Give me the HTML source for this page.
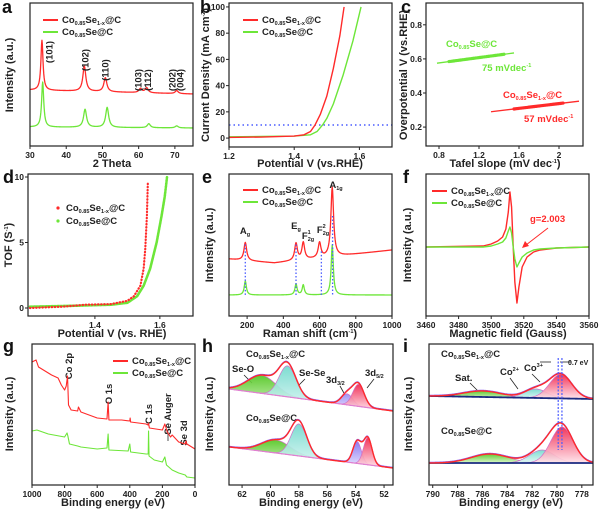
<!DOCTYPE html>
<html><head><meta charset="utf-8">
<style>
html,body{margin:0;padding:0;background:#fff;}
svg{display:block;font-family:"Liberation Sans",Arial,sans-serif;font-weight:bold;}
.tl{font-size:8.5px;fill:#222;}
.at{font-size:11px;fill:#222;}
.lt{font-size:18px;fill:#111;}
.lg{font-size:9.5px;fill:#222;}
.sb{font-size:5.5px;}
</style></head>
<body>
<svg id="fig" width="600" height="509" viewBox="0 0 600 509" xmlns="http://www.w3.org/2000/svg">
<defs>
<linearGradient id="gGreen" x1="0" y1="0" x2="0" y2="1"><stop offset="0" stop-color="#4fc51d"/><stop offset="1" stop-color="#d9f7c8"/></linearGradient>
<linearGradient id="gCyan" x1="0" y1="0" x2="0" y2="1"><stop offset="0" stop-color="#6fd8cc"/><stop offset="1" stop-color="#e2f8f5"/></linearGradient>
<linearGradient id="gPurple" x1="0" y1="0" x2="0" y2="1"><stop offset="0" stop-color="#7f6cf0"/><stop offset="1" stop-color="#ebe6ff"/></linearGradient>
<linearGradient id="gRed" x1="0" y1="0" x2="0" y2="1"><stop offset="0" stop-color="#f0204a"/><stop offset="1" stop-color="#ffe3ea"/></linearGradient>
</defs>
<text class="lt" x="2" y="13">a</text>
<text class="lt" x="200" y="13">b</text>
<text class="lt" x="401" y="13">c</text>
<text class="lt" x="3" y="183">d</text>
<text class="lt" x="202" y="183">e</text>
<text class="lt" x="403" y="183">f</text>
<text class="lt" x="3" y="352">g</text>
<text class="lt" x="202" y="352">h</text>
<text class="lt" x="403" y="352">i</text>
<text class="at" text-anchor="middle" transform="translate(13,75) rotate(-90)">Intensity (a.u.)</text>
<text class="at" text-anchor="middle" x="112" y="167">2 Theta</text>
<text class="at" text-anchor="middle" transform="translate(209,75) rotate(-90)">Current Density (mA cm<tspan class="sb" dy="-4">-2</tspan><tspan dy="4">)</tspan></text>
<text class="at" text-anchor="middle" x="310" y="167">Potential V (vs.RHE)</text>
<text class="at" text-anchor="middle" transform="translate(407,75) rotate(-90)">Overpotential V (vs.RHE)</text>
<text class="at" text-anchor="middle" x="505" y="167">Tafel slope (mV dec<tspan class="sb" dy="-4">-1</tspan><tspan dy="4">)</tspan></text>
<text class="at" text-anchor="middle" transform="translate(12,245) rotate(-90)">TOF (S<tspan class="sb" dy="-4">-1</tspan><tspan dy="4">)</tspan></text>
<text class="at" text-anchor="middle" x="112" y="337">Potential V (vs. RHE)</text>
<text class="at" text-anchor="middle" transform="translate(213,245) rotate(-90)">Intensity (a.u.)</text>
<text class="at" text-anchor="middle" x="310" y="337">Raman shift (cm<tspan class="sb" dy="-4">-1</tspan><tspan dy="4">)</tspan></text>
<text class="at" text-anchor="middle" transform="translate(411,245) rotate(-90)">Intensity (a.u.)</text>
<text class="at" text-anchor="middle" x="508" y="337">Magnetic field (Gauss)</text>
<text class="at" text-anchor="middle" transform="translate(13,414) rotate(-90)">Intensity (a.u.)</text>
<text class="at" text-anchor="middle" x="113" y="506">Binding energy (eV)</text>
<text class="at" text-anchor="middle" transform="translate(213,414) rotate(-90)">Intensity (a.u.)</text>
<text class="at" text-anchor="middle" x="311" y="506">Binding energy (eV)</text>
<text class="at" text-anchor="middle" transform="translate(412,414) rotate(-90)">Intensity (a.u.)</text>
<text class="at" text-anchor="middle" x="511" y="506">Binding energy (eV)</text>

<g>
<line x1="43" y1="20" x2="58" y2="20" stroke="#ff2a2a" stroke-width="2"/>
<text class="lg" x="62" y="23">Co<tspan class="sb" dy="2">0.85</tspan><tspan dy="-2">Se</tspan><tspan class="sb" dy="2">1-x</tspan><tspan dy="-2">@C</tspan></text>
<line x1="43" y1="32" x2="58" y2="32" stroke="#6de639" stroke-width="2"/>
<text class="lg" x="62" y="35">Co<tspan class="sb" dy="2">0.85</tspan><tspan dy="-2">Se@C</tspan></text>
</g>
<g>
<line x1="243" y1="20" x2="258" y2="20" stroke="#ff2a2a" stroke-width="2"/>
<text class="lg" x="262" y="23">Co<tspan class="sb" dy="2">0.85</tspan><tspan dy="-2">Se</tspan><tspan class="sb" dy="2">1-x</tspan><tspan dy="-2">@C</tspan></text>
<line x1="243" y1="32" x2="258" y2="32" stroke="#6de639" stroke-width="2"/>
<text class="lg" x="262" y="35">Co<tspan class="sb" dy="2">0.85</tspan><tspan dy="-2">Se@C</tspan></text>
</g>
<text class="lg" x="446" y="47" style="fill:#6de639">Co<tspan class="sb" dy="2">0.85</tspan><tspan dy="-2">Se@C</tspan></text>
<text class="lg" x="482" y="71" style="fill:#6de639">75 mVdec<tspan class="sb" dy="-4">-1</tspan></text>
<text class="lg" x="503" y="98" style="fill:#ff2a2a">Co<tspan class="sb" dy="2">0.85</tspan><tspan dy="-2">Se</tspan><tspan class="sb" dy="2">1-x</tspan><tspan dy="-2">@C</tspan></text>
<text class="lg" x="524" y="122" style="fill:#ff2a2a">57 mVdec<tspan class="sb" dy="-4">-1</tspan></text>
<g>
<circle cx="58" cy="208" r="1.6" fill="#ff2a2a"/>
<text class="lg" x="66" y="211">Co<tspan class="sb" dy="2">0.85</tspan><tspan dy="-2">Se</tspan><tspan class="sb" dy="2">1-x</tspan><tspan dy="-2">@C</tspan></text>
<circle cx="58" cy="221" r="1.6" fill="#6de639"/>
<text class="lg" x="66" y="224">Co<tspan class="sb" dy="2">0.85</tspan><tspan dy="-2">Se@C</tspan></text>
</g>
<g>
<line x1="243" y1="190" x2="258" y2="190" stroke="#ff2a2a" stroke-width="2"/>
<text class="lg" x="262" y="193">Co<tspan class="sb" dy="2">0.85</tspan><tspan dy="-2">Se</tspan><tspan class="sb" dy="2">1-x</tspan><tspan dy="-2">@C</tspan></text>
<line x1="243" y1="202" x2="258" y2="202" stroke="#6de639" stroke-width="2"/>
<text class="lg" x="262" y="205">Co<tspan class="sb" dy="2">0.85</tspan><tspan dy="-2">Se@C</tspan></text>
</g>
<g>
<line x1="432" y1="191" x2="447" y2="191" stroke="#ff2a2a" stroke-width="2"/>
<text class="lg" x="451" y="194">Co<tspan class="sb" dy="2">0.85</tspan><tspan dy="-2">Se</tspan><tspan class="sb" dy="2">1-x</tspan><tspan dy="-2">@C</tspan></text>
<line x1="432" y1="203" x2="447" y2="203" stroke="#6de639" stroke-width="2"/>
<text class="lg" x="451" y="206">Co<tspan class="sb" dy="2">0.85</tspan><tspan dy="-2">Se@C</tspan></text>
</g>
<text class="lg" x="530" y="222" style="fill:#ff2a2a">g=2.003</text>
<line x1="548" y1="228" x2="526" y2="245" stroke="#ff2a2a" stroke-width="1"/>
<polygon points="522,248 525,241 529,246" fill="#ff2a2a"/>
<g>
<line x1="113" y1="361" x2="128" y2="361" stroke="#ff2a2a" stroke-width="2"/>
<text class="lg" x="132" y="364">Co<tspan class="sb" dy="2">0.85</tspan><tspan dy="-2">Se</tspan><tspan class="sb" dy="2">1-x</tspan><tspan dy="-2">@C</tspan></text>
<line x1="113" y1="373" x2="128" y2="373" stroke="#6de639" stroke-width="2"/>
<text class="lg" x="132" y="376">Co<tspan class="sb" dy="2">0.85</tspan><tspan dy="-2">Se@C</tspan></text>
</g>
<text class="lg" transform="translate(72,366) rotate(-90)" text-anchor="middle">Co 2p</text>
<text class="lg" transform="translate(112,394) rotate(-90)" text-anchor="middle">O 1s</text>
<text class="lg" transform="translate(152,414) rotate(-90)" text-anchor="middle">C 1s</text>
<text class="lg" transform="translate(171,414) rotate(-90)" text-anchor="middle">Se Auger</text>
<text class="lg" transform="translate(187,433) rotate(-90)" text-anchor="middle">Se 3d</text>
<line x1="168" y1="432" x2="168" y2="441" stroke="#222" stroke-width="0.8"/>
<text class="lg" x="246" y="357">Co<tspan class="sb" dy="2">0.85</tspan><tspan dy="-2">Se</tspan><tspan class="sb" dy="2">1-x</tspan><tspan dy="-2">@C</tspan></text>
<text class="lg" x="232" y="372">Se-O</text>
<text class="lg" x="299" y="376">Se-Se</text>
<text class="lg" x="326" y="383">3d<tspan class="sb" dy="2">3/2</tspan></text>
<text class="lg" x="365" y="376">3d<tspan class="sb" dy="2">5/2</tspan></text>
<text class="lg" x="246" y="421">Co<tspan class="sb" dy="2">0.85</tspan><tspan dy="-2">Se@C</tspan></text>
<g stroke="#222" stroke-width="0.8">
<line x1="244" y1="375" x2="252" y2="383"/><line x1="305" y1="379" x2="298" y2="386"/>
<line x1="340" y1="386" x2="345" y2="395"/><line x1="374" y1="379" x2="367" y2="388"/>
</g>
<text class="lg" x="441" y="357">Co<tspan class="sb" dy="2">0.85</tspan><tspan dy="-2">Se</tspan><tspan class="sb" dy="2">1-x</tspan><tspan dy="-2">@C</tspan></text>
<text class="lg" x="455" y="381">Sat.</text>
<text class="lg" x="500" y="375">Co<tspan class="sb" dy="-4">2+</tspan></text>
<text class="lg" x="524" y="371">Co<tspan class="sb" dy="-4">3+</tspan></text>
<text class="lg" x="441" y="434">Co<tspan class="sb" dy="2">0.85</tspan><tspan dy="-2">Se@C</tspan></text>
<text x="568" y="365" style="font-size:7px;fill:#222">0.7 eV</text>
<g stroke="#222" stroke-width="0.8">
<line x1="470" y1="383" x2="478" y2="391"/><line x1="510" y1="378" x2="518" y2="389"/>
<line x1="532" y1="374" x2="540" y2="382"/>
<line x1="540" y1="362" x2="551" y2="362"/><line x1="571" y1="362" x2="560" y2="362"/>
</g>
<g id="plots"></g>
</svg>
<script>
const NS = "http://www.w3.org/2000/svg";
const root = document.getElementById('plots');

// ===== data: a (XRD) =====
const aPeakPos = [33.3, 45.0, 50.8, 60.5, 62.2, 70.5];
const aRedHeights = [50, 25, 14, 4, 5, 3];
const aGreenPos = [33.5, 45.2, 51.3, 62.8, 70.5];
const aGreenHeights = [45, 18, 20, 4, 2];
const aRedBase = [56, 52];
const aGreenBase = [19, 18];
const aXTicks = [30, 40, 50, 60, 70];
const aHklLabels = ["(101)", "(102)", "(110)", "(103)", "(112)", "(202)", "(004)"];
const aHklPos = [35.4, 45.3, 50.9, 59.9, 62.6, 69.4, 71.6];
const aHklHeight = [94, 86, 76, 66, 66, 66, 66];
// ===== b (LSV) =====
const bRedV = [1.2, 1.3, 1.4, 1.43, 1.45, 1.464, 1.48, 1.5, 1.52, 1.54, 1.553];
const bRedJ = [0.5, 0.8, 1.5, 2.5, 5, 10, 18, 32, 53, 78, 100];
const bGreenV = [1.2, 1.3, 1.4, 1.45, 1.47, 1.487, 1.5, 1.52, 1.55, 1.58, 1.605];
const bGreenJ = [1, 1.2, 1.5, 2.5, 5, 10, 15, 26, 48, 74, 100];
const bRef = 10;
const bXTicks = [1.2, 1.4, 1.6];
const bYTicks = [0, 20, 40, 60, 80, 100];
// ===== c (Tafel) =====
const cGreenX = [0.78, 1.55];
const cGreenY = [0.575, 0.635];
const cGreenMark = [0.9, 1.45];
const cRedX = [1.32, 2.2];
const cRedY = [0.29, 0.352];
const cRedMark = [1.55, 2.05];
const cXTicks = [0.8, 1.2, 1.6, 2.0];
const cYTicks = [0.2, 0.4, 0.6, 0.8];
// ===== d (TOF) =====
const dRedV = [1.2, 1.3, 1.37, 1.45, 1.5, 1.52, 1.54, 1.55, 1.555, 1.56, 1.563];
const dRedT = [0, 0.1, 0.25, 0.3, 0.55, 0.9, 1.7, 3, 4.5, 7, 9.6];
const dGreenV = [1.2, 1.35, 1.45, 1.5, 1.53, 1.55, 1.57, 1.59, 1.605, 1.615, 1.622];
const dGreenT = [0.1, 0.18, 0.25, 0.4, 0.9, 1.7, 3, 5, 7, 8.5, 10];
const dXTicks = [1.4, 1.6];
const dYTicks = [0, 5, 10];
// ===== e (Raman) =====
const eRedPeaks = [190, 470, 510, 600, 670];
const eRedHeights = [18, 17, 17, 15, 69];
const eGreenPeaks = [190, 470, 510, 670];
const eGreenHeights = [14, 11, 10, 50];
const eRedBaseX = [100, 350, 700, 1000];
const eRedBaseY = [57, 53, 60, 66];
const eGreenBase = 21;
const eModes = [190, 470, 610, 672];
const eXTicks = [200, 400, 600, 800, 1000];
// ===== f (EPR) =====
const fField = [3460,3495,3500,3504,3507,3509,3510.5,3511.5,3512.5,3513.5,3514.5,3515.8,3517,3519,3522,3526,3530,3540,3560];
const fRed = [0,1,3,6,10,18,35,55,40,0,-35,-56,-40,-20,-10,-5,-3,-1,0];
const fGreen = [0,0,1,3,5,9,16,20,14,0,-12,-20,-16,-10,-6,-3,-2,-1,0];
const fXTicks = [3460, 3480, 3500, 3520, 3540, 3560];
// ===== g (XPS survey) =====
const gRedBE = [1000,975,960,930,880,840,820,800,790,782,776,760,720,715,700,600,540,533,528,450,400,398,395,300,288,285,280,200,185,170,150,140,100,60,55,50,10,0];
const gRedI  = [123,125,118,115,110,107,100,95,99,109,80,75,74,78,73,67,66,83,65,65,64,67,63,61,60,62,57,55,61,53,48,50,43,41,44,41,37,36];
const gGreenBE = [1000,970,900,800,785,780,770,720,700,600,540,533,528,410,400,395,300,287,285,282,250,200,185,175,140,100,60,50,0];
const gGreenI  = [54,55,51,48,52,49,41,39,38,36,37,51,35,34,41,33,31,31,54,29,25,23,28,20,15,12,10,8,7];
const gXTicks = [1000, 800, 600, 400, 200, 0];
// ===== h (Se 3d) =====
const hCompNames = ["Se-O", "Se-Se", "3d3/2", "3d5/2"];
const hFills = ["url(#gGreen)", "url(#gCyan)", "url(#gPurple)", "url(#gRed)"];
const hTopCenters = [60.6, 58.8, 54.6, 53.8];
const hTopHeights = [18, 31, 11, 22];
const hTopSigmas = [1.0, 0.6, 0.4, 0.4];
const hTopBase = [96, 74];
const hBotCenters = [59.6, 58.0, 53.9, 53.15];
const hBotHeights = [13, 32, 22, 27];
const hBotSigmas = [1.0, 0.55, 0.3, 0.3];
const hBotBase = [38, 17];
const hXTicks = [62, 60, 58, 56, 54, 52];
// ===== i (Co 2p) =====
const iFills = ["url(#gGreen)", "url(#gCyan)", "url(#gRed)"];
const iTopCenters = [786.0, 781.7, 779.7];
const iTopHeights = [6, 9, 24];
const iTopSigmas = [1.5, 0.9, 0.9];
const iTopBase = [89, 86];
const iBotCenters = [785.4, 781.2, 779.6];
const iBotHeights = [9, 13, 36];
const iBotSigmas = [1.5, 1.0, 0.9];
const iBotBase = [22, 22];
const iShift = [779.9, 779.6];
const iXTicks = [790, 788, 786, 784, 782, 780, 778];

const RED = "#ff2a2a", GREEN = "#6de639", BLUE = "#4a5cff";

function el(tag, parent) { const e = document.createElementNS(NS, tag); parent.appendChild(e); return e; }
function lor(x, c, w) { return 1 / (1 + ((x - c) / w) ** 2); }
function gau(x, c, s) { return Math.exp(-((x - c) ** 2) / (2 * s * s)); }
function grid(a, b, n) { const r = []; for (let i = 0; i <= n; i++) r.push(a + (b - a) * i / n); return r; }
function interp(xs, ys, x) {
  for (let i = 0; i < xs.length - 1; i++) {
    const lo = Math.min(xs[i], xs[i+1]), hi = Math.max(xs[i], xs[i+1]);
    if (x >= lo && x <= hi) { const t = (x - xs[i]) / (xs[i+1] - xs[i]); return ys[i] + t * (ys[i+1] - ys[i]); }
  }
  return ys[ys.length - 1];
}

function axes(id, box, xd, yd, xt, yt) {
  const sx = v => box.l + (v - xd[0]) / (xd[1] - xd[0]) * (box.r - box.l);
  const sy = v => box.b - (v - yd[0]) / (yd[1] - yd[0]) * (box.b - box.t);
  const g = el('g', root);
  
  
  const marks = el('g', g);
  
  
  const fr = el('rect', g);
  
  
  fr.setAttribute('x', box.l); fr.setAttribute('y', box.t);
  fr.setAttribute('width', box.r - box.l); fr.setAttribute('height', box.b - box.t);
  fr.setAttribute('fill', 'none'); fr.setAttribute('stroke', '#222'); fr.setAttribute('stroke-width', '1.2');
  for (const v of xt) {
    const t = el('line', g);
    
    
    t.setAttribute('x1', sx(v)); t.setAttribute('x2', sx(v));
    t.setAttribute('y1', box.b); t.setAttribute('y2', box.b + 3);
    t.setAttribute('stroke', '#222');
    const l = el('text', g);
    
    
    l.setAttribute('class', 'tl'); l.setAttribute('text-anchor', 'middle');
    l.setAttribute('x', sx(v)); l.setAttribute('y', box.b + 12);
    l.textContent = String(v);
  }
  for (const v of yt) {
    const yy = sy(v);
    const t = el('line', g);
    
    
    t.setAttribute('x1', box.l - 3); t.setAttribute('x2', box.l);
    t.setAttribute('y1', yy); t.setAttribute('y2', yy);
    t.setAttribute('stroke', '#222');
    const l = el('text', g);
    
    
    l.setAttribute('class', 'tl'); l.setAttribute('text-anchor', 'end');
    l.setAttribute('fill', '#222');
    l.setAttribute('x', box.l - 4); l.setAttribute('y', yy + 3);
    l.textContent = v.toFixed(id === 'c' ? 1 : 0);
  }
  return { sx, sy, g: marks };
}
function poly(P, xs, ys, color, w, name, dash) {
  const p = el('path', P.g);
  
  
  p.setAttribute('d', xs.map((x, i) => (i ? 'L' : 'M') + P.sx(x).toFixed(2) + ',' + P.sy(ys[i]).toFixed(2)).join(''));
  p.setAttribute('fill', 'none'); p.setAttribute('stroke', color); p.setAttribute('stroke-width', w);
  p.setAttribute('stroke-linejoin', 'round');
  if (dash) { p.setAttribute('stroke-dasharray', dash); p.setAttribute('stroke-linecap', 'round'); }
  return p;
}

(function () {
  const P = axes('a', { l: 30, t: 3, r: 193, b: 146 }, [30, 75], [0, 143], aXTicks, []);
  const xs = grid(30, 75, 450);
  const red = xs.map(x => interp([30, 75], aRedBase, x) + aPeakPos.reduce((s, c, i) => s + aRedHeights[i] * lor(x, c, i ? 0.5 : 0.35), 0));
  const grn = xs.map(x => interp([30, 75], aGreenBase, x) + aGreenPos.reduce((s, c, i) => s + aGreenHeights[i] * lor(x, c, i ? 0.5 : 0.35), 0));
  poly(P, xs, red, RED, 1.3, 'a-red-pattern');
  poly(P, xs, grn, GREEN, 1.3, 'a-green-pattern');
  aHklLabels.forEach((s, i) => {
    const t = el('text', P.g);
    
    
    t.setAttribute('class', 'lg'); t.setAttribute('text-anchor', 'middle');
    t.setAttribute('transform', `translate(${P.sx(aHklPos[i]) + 3},${P.sy(aHklHeight[i])}) rotate(-90)`);
    t.textContent = s;
  });
})();
(function () {
  const P = axes('b', { l: 229, t: 3, r: 392, b: 147 }, [1.2, 1.7], [-6.8, 103], bXTicks, bYTicks);
  const r = el('line', P.g);
  
  
  r.setAttribute('x1', P.sx(1.2)); r.setAttribute('x2', P.sx(1.7));
  r.setAttribute('y1', P.sy(bRef)); r.setAttribute('y2', P.sy(bRef));
  r.setAttribute('stroke', BLUE); r.setAttribute('stroke-width', '1.5'); r.setAttribute('stroke-dasharray', '1.5 3');
  poly(P, bGreenV, bGreenJ, GREEN, 1.4, 'b-green-lsv');
  poly(P, bRedV, bRedJ, RED, 1.4, 'b-red-lsv');
})();
(function () {
  const P = axes('c', { l: 426, t: 3, r: 583, b: 146 }, [0.67, 2.24], [0.089, 0.928], cXTicks, cYTicks);
  poly(P, cGreenX, cGreenY, GREEN, 1.3, 'c-green-fit');
  poly(P, cRedX, cRedY, RED, 1.3, 'c-red-fit');
  const gy = cGreenMark.map(x => interp(cGreenX, cGreenY, x));
  const ry = cRedMark.map(x => interp(cRedX, cRedY, x));
  poly(P, cGreenMark, gy, GREEN, 3.2, 'c-green-points', '1 1.2');
  poly(P, cRedMark, ry, RED, 3.2, 'c-red-points', '1 1.2');
})();
(function () {
  const P = axes('d', { l: 28, t: 174, r: 193, b: 316 }, [1.194, 1.702], [-0.61, 10.23], dXTicks, dYTicks);
  poly(P, dGreenV, dGreenT, GREEN, 2.6, 'd-green-tof', '0.5 1');
  poly(P, dRedV, dRedT, RED, 2.2, 'd-red-tof', '0.5 2.6');
})();
(function () {
  const P = axes('e', { l: 229, t: 174, r: 392, b: 316 }, [100, 1000], [0, 142], eXTicks, []);
  const xs = grid(100, 1000, 450);
  const red = xs.map(x => interp(eRedBaseX, eRedBaseY, x) + eRedPeaks.reduce((s, c, i) => s + eRedHeights[i] * lor(x, c, 9), 0));
  const grn = xs.map(x => eGreenBase + eGreenPeaks.reduce((s, c, i) => s + eGreenHeights[i] * lor(x, c, 7), 0));
  poly(P, xs, red, RED, 1.3, 'e-red-raman');
  poly(P, xs, grn, GREEN, 1.3, 'e-green-raman');
  eModes.forEach(m => {
    const top = interp(xs, red, m) - 2;
    const l = el('line', P.g);
    
    
    l.setAttribute('x1', P.sx(m)); l.setAttribute('x2', P.sx(m));
    l.setAttribute('y1', P.sy(Math.min(top, 100))); l.setAttribute('y2', P.sy(eGreenBase));
    l.setAttribute('stroke', BLUE); l.setAttribute('stroke-width', '1.3'); l.setAttribute('stroke-dasharray', '1.5 2');
  });
  const labs = [
    ['A<tspan class="sb" dy="2">g</tspan>', 245, 234],
    ['E<tspan class="sb" dy="2">g</tspan>', 296, 229],
    ['F<tspan class="sb" dy="-5">1</tspan><tspan class="sb" dx="-3" dy="7">2g</tspan>', 308, 239],
    ['F<tspan class="sb" dy="-5">2</tspan><tspan class="sb" dx="-3" dy="7">2g</tspan>', 323, 233],
    ['A<tspan class="sb" dy="2">1g</tspan>', 336, 188]
  ];
  labs.forEach(m => {
    const t = el('text', P.g);
    
    
    t.setAttribute('class', 'lg'); t.setAttribute('text-anchor', 'middle');
    t.setAttribute('x', m[1]); t.setAttribute('y', m[2]);
    t.innerHTML = m[0];
  });
})();
(function () {
  const P = axes('f', { l: 426, t: 174, r: 589, b: 316 }, [3460, 3560], [-69, 73], fXTicks, []);
  poly(P, fField, fRed, RED, 1.4, 'f-red-epr');
  poly(P, fField, fGreen, GREEN, 1.4, 'f-green-epr');
})();
(function () {
  const P = axes('g', { l: 32, t: 344, r: 195, b: 485 }, [1000, 0], [0, 141], gXTicks, []);
  poly(P, gRedBE, gRedI, RED, 1.1, 'g-red-survey');
  poly(P, gGreenBE, gGreenI, GREEN, 1.1, 'g-green-survey');
})();
function fit(P, prefix, xr, base, centers, heights, sigmas, fills, baseColor, baseW) {
  const xs = grid(xr[0], xr[1], 240);
  const bl = xs.map(x => interp(xr, base, x));
  centers.forEach((c, k) => {
    const top = xs.map((x, i) => bl[i] + heights[k] * gau(x, c, sigmas[k]));
    const p = el('path', P.g);
    
    
    let d = xs.map((x, i) => (i ? 'L' : 'M') + P.sx(x).toFixed(2) + ',' + P.sy(top[i]).toFixed(2)).join('');
    for (let i = xs.length - 1; i >= 0; i--) d += 'L' + P.sx(xs[i]).toFixed(2) + ',' + P.sy(bl[i]).toFixed(2);
    p.setAttribute('d', d + 'Z');
    p.setAttribute('fill', fills[k]); p.setAttribute('fill-opacity', '0.9');
    p.setAttribute('stroke', '#d070c8'); p.setAttribute('stroke-width', '0.7');
  });
  poly(P, xs, bl, baseColor, baseW, prefix + '-baseline');
  const env = xs.map((x, i) => bl[i] + centers.reduce((s, c, k) => s + heights[k] * gau(x, c, sigmas[k]), 0));
  poly(P, xs, env.map(v => v + 0.8), '#8a5cf0', 0.8, prefix + '-raw-data');
  poly(P, xs, env, RED, 1.4, prefix + '-envelope');
}
(function () {
  const P = axes('h', { l: 229, t: 344, r: 393, b: 485 }, [62.92, 51.37], [0, 141], hXTicks, []);
  fit(P, 'h-top', [62.92, 51.37], hTopBase, hTopCenters, hTopHeights, hTopSigmas, hFills, '#e080d0', 1.2);
  fit(P, 'h-bottom', [62.92, 51.37], hBotBase, hBotCenters, hBotHeights, hBotSigmas, hFills, '#e080d0', 1.2);
})();
(function () {
  const P = axes('i', { l: 429, t: 344, r: 593, b: 485 }, [790.3, 777.1], [0, 141], iXTicks, []);
  fit(P, 'i-top', [790.3, 777.1], iTopBase, iTopCenters, iTopHeights, iTopSigmas, iFills, '#1a2a80', 1.8);
  fit(P, 'i-bottom', [790.3, 777.1], iBotBase, iBotCenters, iBotHeights, iBotSigmas, iFills, '#1a2a80', 1.8);
  iShift.forEach(v => {
    const l = el('line', P.g);
    
    
    l.setAttribute('x1', P.sx(v)); l.setAttribute('x2', P.sx(v));
    l.setAttribute('y1', 358); l.setAttribute('y2', 450);
    l.setAttribute('stroke', BLUE); l.setAttribute('stroke-width', '1.2'); l.setAttribute('stroke-dasharray', '2 1.5');
  });
})();
</script>
</body></html>
